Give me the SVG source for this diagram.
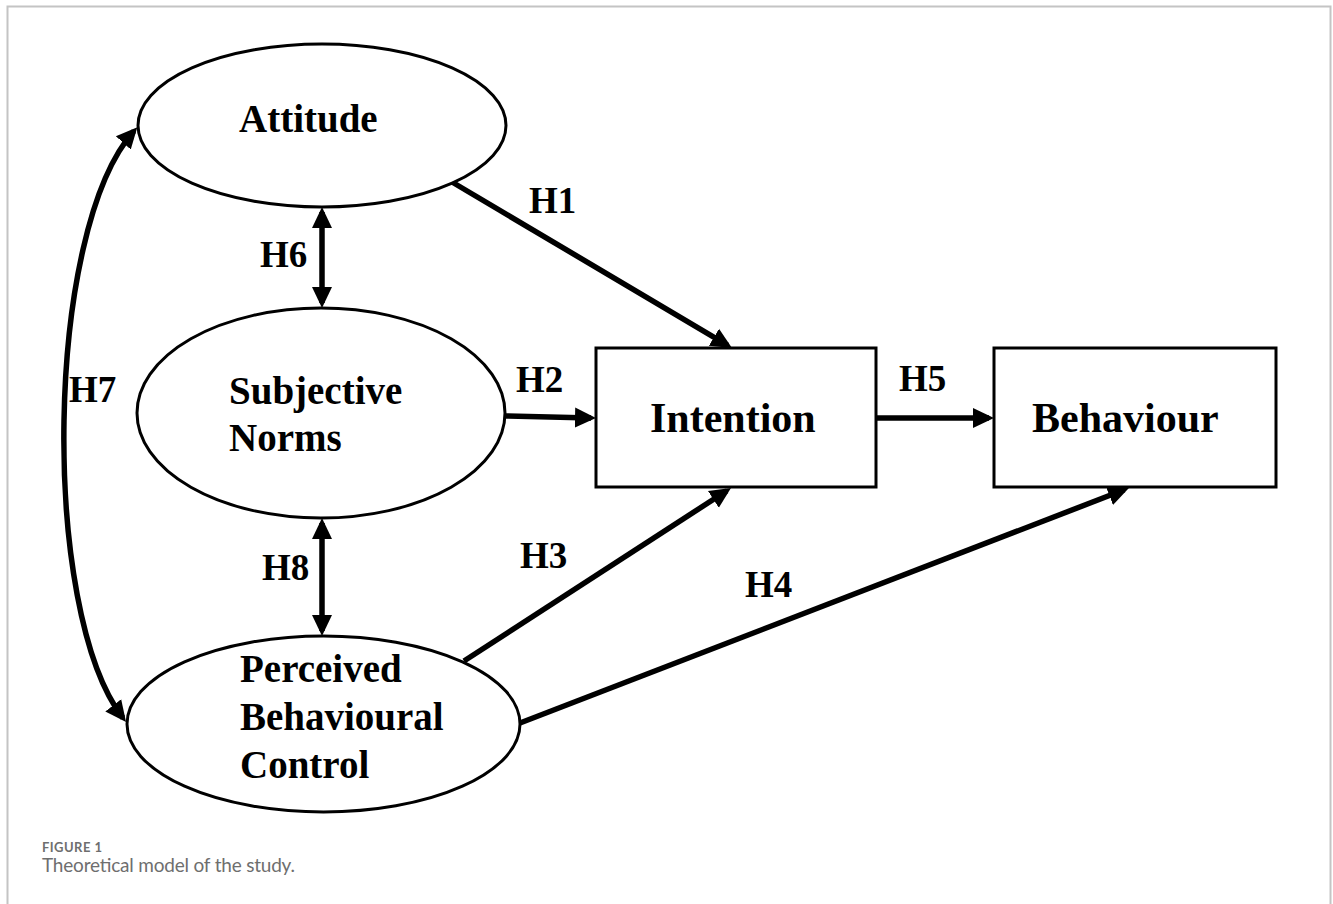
<svg xmlns="http://www.w3.org/2000/svg" width="1333" height="904" viewBox="0 0 1333 904">
<style>
.node{fill:#fff;stroke:#000;stroke-width:3}
.lbl{font-family:"Liberation Serif","Times New Roman",serif;font-weight:bold;fill:#000}
.el{font-size:39px}
.bx{font-size:42px}
.h{font-size:37px}
.conn{fill:none;stroke:#000;stroke-width:5.5}
.cap{font-family:Lato,"Open Sans",sans-serif;fill:#6e6e6e}
</style>
<defs>
<marker id="ah" markerUnits="userSpaceOnUse" markerWidth="22" markerHeight="22" refX="16" refY="10" orient="auto-start-reverse" viewBox="0 0 22 20">
<path d="M0,0 L21,10 L0,20 Z" fill="#000"/>
</marker>
</defs>
<rect x="0" y="0" width="1333" height="904" fill="#fff"/>
<rect x="7.5" y="6.5" width="1323" height="1000" fill="none" stroke="#c4c4c4" stroke-width="2"/>

<g id="connectors">
<line class="conn" x1="452" y1="182" x2="727.7" y2="345.4" marker-end="url(#ah)"/>
<line class="conn" x1="505" y1="416" x2="591" y2="417.9" marker-end="url(#ah)"/>
<line class="conn" x1="464" y1="661" x2="726.8" y2="490.7" marker-end="url(#ah)"/>
<line class="conn" x1="520" y1="723" x2="1124.3" y2="489.8" marker-end="url(#ah)"/>
<line class="conn" x1="876" y1="418" x2="989" y2="418" marker-end="url(#ah)"/>
<line class="conn" x1="322" y1="212" x2="322" y2="303" marker-start="url(#ah)" marker-end="url(#ah)"/>
<line class="conn" x1="322" y1="523" x2="322" y2="631" marker-start="url(#ah)" marker-end="url(#ah)"/>
<path class="conn" d="M134,131 C45,230 40,610 123,718" marker-start="url(#ah)" marker-end="url(#ah)"/>
</g>

<g id="attitude">
<ellipse class="node" cx="322" cy="125.5" rx="184" ry="81.5"/>
<text class="lbl el" x="239" y="132">Attitude</text>
</g>
<g id="subjective-norms">
<ellipse class="node" cx="321" cy="413" rx="184" ry="105"/>
<text class="lbl el" x="229" y="404">Subjective</text>
<text class="lbl el" x="229" y="451">Norms</text>
</g>
<g id="perceived-behavioural-control">
<ellipse class="node" cx="323.5" cy="724" rx="196.5" ry="88"/>
<text class="lbl el" x="240" y="682">Perceived</text>
<text class="lbl el" x="240" y="730">Behavioural</text>
<text class="lbl el" x="240" y="778">Control</text>
</g>
<g id="intention">
<rect class="node" x="596" y="348" width="280" height="139" stroke-width="3.5"/>
<text class="lbl bx" x="650" y="432">Intention</text>
</g>
<g id="behaviour">
<rect class="node" x="994" y="348" width="282" height="139" stroke-width="3.5"/>
<text class="lbl bx" x="1032" y="432">Behaviour</text>
</g>

<g id="labels">
<text class="lbl h" x="529" y="213">H1</text>
<text class="lbl h" x="516" y="392">H2</text>
<text class="lbl h" x="520" y="568">H3</text>
<text class="lbl h" x="745" y="597">H4</text>
<text class="lbl h" x="899" y="391">H5</text>
<text class="lbl h" x="260" y="267">H6</text>
<text class="lbl h" x="69" y="402">H7</text>
<text class="lbl h" x="262" y="580">H8</text>
</g>

<g id="caption">
<text class="cap" x="42" y="852" font-size="13" font-weight="bold" textLength="60">FIGURE 1</text>
<text class="cap" x="42" y="872" font-size="19" textLength="253">Theoretical model of the study.</text>
</g>
</svg>
